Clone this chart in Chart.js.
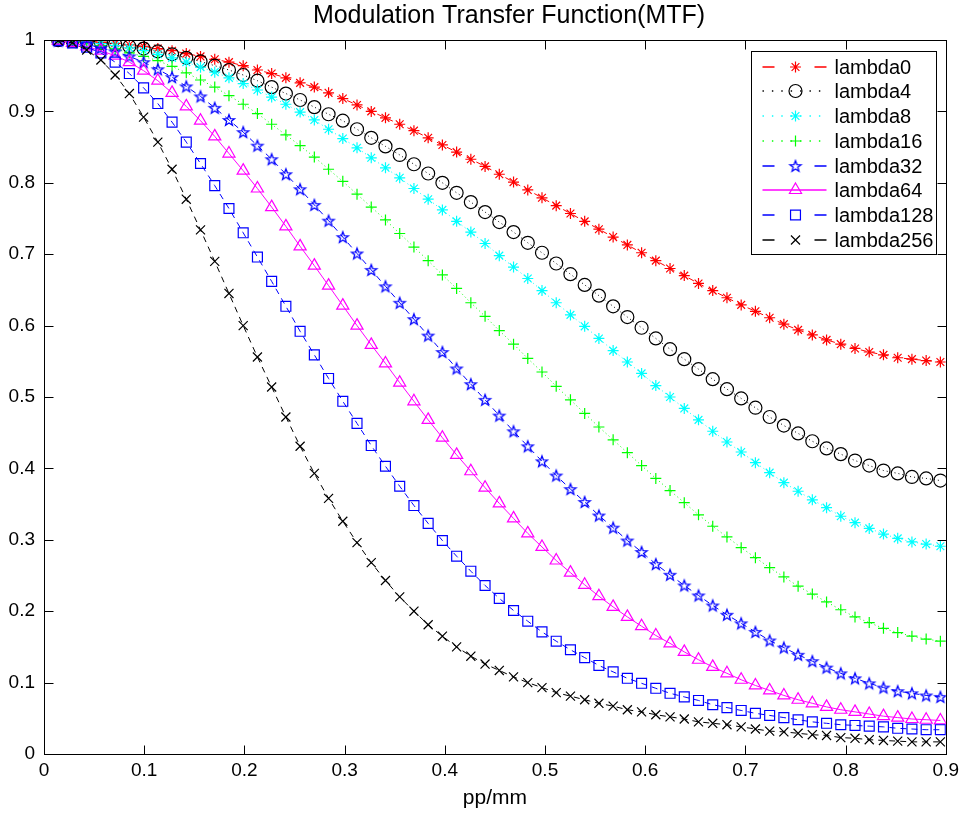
<!DOCTYPE html>
<html>
<head>
<meta charset="utf-8">
<title>MTF</title>
<script src="https://cdn.jsdelivr.net/npm/chart.js@4.4.0/dist/chart.umd.min.js"></script>
<style>
  html, body { margin: 0; padding: 0; background: #fff; }
  #mtf { display: block; }
</style>
</head>
<body>
<canvas id="mtf" width="964" height="814"></canvas>
<script>
// spatial frequency samples (pp/mm)
const freq = [0.0142, 0.0284, 0.0426, 0.0568, 0.071, 0.0852, 0.0994, 0.1136, 0.1278, 0.142,
  0.1562, 0.1704, 0.1846, 0.1988, 0.213, 0.2272, 0.2414, 0.2556, 0.2698, 0.284,
  0.2982, 0.3124, 0.3266, 0.3408, 0.355, 0.3692, 0.3834, 0.3976, 0.4118, 0.426,
  0.4402, 0.4544, 0.4686, 0.4828, 0.497, 0.5112, 0.5254, 0.5396, 0.5538, 0.568,
  0.5822, 0.5964, 0.6106, 0.6248, 0.639, 0.6532, 0.6674, 0.6816, 0.6958, 0.71,
  0.7242, 0.7384, 0.7526, 0.7668, 0.781, 0.7952, 0.8094, 0.8236, 0.8378, 0.852,
  0.8662, 0.8804, 0.8946];

const lambda0 = [0.9998, 0.9993, 0.9983, 0.997, 0.9954, 0.9933, 0.991, 0.988, 0.985, 0.981,
  0.977, 0.973, 0.969, 0.964, 0.958, 0.953, 0.947, 0.940, 0.934, 0.926,
  0.918, 0.909, 0.900, 0.891, 0.882, 0.873, 0.863, 0.853, 0.843, 0.833,
  0.823, 0.812, 0.801, 0.790, 0.779, 0.768, 0.757, 0.746, 0.735, 0.724,
  0.713, 0.702, 0.691, 0.680, 0.670, 0.659, 0.649, 0.639, 0.629, 0.620,
  0.611, 0.602, 0.594, 0.587, 0.580, 0.574, 0.568, 0.563, 0.559, 0.555,
  0.553, 0.551, 0.549];

const lambda4 = [0.9997, 0.999, 0.9977, 0.996, 0.994, 0.991, 0.988, 0.984, 0.980, 0.975,
  0.970, 0.964, 0.958, 0.951, 0.943, 0.934, 0.925, 0.916, 0.906, 0.896,
  0.887, 0.875, 0.863, 0.851, 0.839, 0.826, 0.813, 0.800, 0.786, 0.773,
  0.759, 0.745, 0.731, 0.716, 0.702, 0.687, 0.672, 0.657, 0.642, 0.627,
  0.612, 0.597, 0.582, 0.567, 0.553, 0.539, 0.525, 0.511, 0.498, 0.485,
  0.472, 0.460, 0.449, 0.438, 0.428, 0.420, 0.411, 0.404, 0.397, 0.393,
  0.388, 0.386, 0.383];

const lambda8 = [0.9997, 0.9988, 0.9972, 0.995, 0.992, 0.989, 0.985, 0.980, 0.975, 0.969,
  0.962, 0.955, 0.947, 0.939, 0.930, 0.920, 0.910, 0.899, 0.888, 0.875,
  0.862, 0.849, 0.835, 0.821, 0.807, 0.792, 0.777, 0.762, 0.746, 0.731,
  0.715, 0.698, 0.682, 0.666, 0.649, 0.632, 0.615, 0.599, 0.582, 0.565,
  0.549, 0.533, 0.516, 0.500, 0.484, 0.468, 0.452, 0.437, 0.423, 0.408,
  0.394, 0.380, 0.368, 0.356, 0.345, 0.333, 0.324, 0.316, 0.308, 0.302,
  0.297, 0.294, 0.291];

const lambda16 = [0.9995, 0.998, 0.9955, 0.992, 0.9875, 0.982, 0.977, 0.971, 0.963, 0.954,
  0.944, 0.934, 0.922, 0.910, 0.897, 0.882, 0.867, 0.852, 0.836, 0.819,
  0.802, 0.784, 0.766, 0.748, 0.729, 0.710, 0.691, 0.671, 0.652, 0.632,
  0.613, 0.593, 0.574, 0.554, 0.535, 0.515, 0.496, 0.477, 0.458, 0.440,
  0.422, 0.404, 0.386, 0.369, 0.352, 0.335, 0.319, 0.304, 0.289, 0.275,
  0.261, 0.248, 0.235, 0.224, 0.213, 0.202, 0.192, 0.184, 0.176, 0.170,
  0.165, 0.161, 0.158];

const lambda32 = [0.999, 0.997, 0.994, 0.989, 0.984, 0.977, 0.969, 0.959, 0.948, 0.935,
  0.921, 0.905, 0.888, 0.871, 0.852, 0.833, 0.812, 0.791, 0.769, 0.747,
  0.724, 0.701, 0.678, 0.655, 0.632, 0.609, 0.586, 0.563, 0.540, 0.518,
  0.496, 0.474, 0.452, 0.431, 0.410, 0.390, 0.371, 0.353, 0.334, 0.317,
  0.299, 0.283, 0.266, 0.251, 0.236, 0.222, 0.208, 0.195, 0.183, 0.171,
  0.159, 0.149, 0.139, 0.130, 0.121, 0.113, 0.106, 0.099, 0.093, 0.088,
  0.085, 0.082, 0.080];

const lambda64 = [0.999, 0.996, 0.991, 0.985, 0.978, 0.969, 0.957, 0.943, 0.926, 0.907,
  0.887, 0.865, 0.841, 0.817, 0.792, 0.766, 0.739, 0.711, 0.684, 0.656,
  0.628, 0.600, 0.573, 0.547, 0.520, 0.494, 0.468, 0.443, 0.419, 0.396,
  0.373, 0.351, 0.330, 0.309, 0.290, 0.271, 0.254, 0.237, 0.221, 0.206,
  0.192, 0.179, 0.166, 0.155, 0.143, 0.132, 0.122, 0.113, 0.104, 0.096,
  0.089, 0.082, 0.076, 0.071, 0.066, 0.062, 0.059, 0.056, 0.053, 0.051,
  0.049, 0.048, 0.047];

const lambda128 = [0.999, 0.996, 0.990, 0.982, 0.969, 0.953, 0.933, 0.911, 0.885, 0.857,
  0.827, 0.796, 0.764, 0.730, 0.696, 0.662, 0.627, 0.592, 0.559, 0.526,
  0.494, 0.463, 0.432, 0.403, 0.375, 0.348, 0.323, 0.299, 0.277, 0.256,
  0.236, 0.218, 0.201, 0.186, 0.171, 0.158, 0.146, 0.135, 0.124, 0.115,
  0.106, 0.099, 0.092, 0.085, 0.080, 0.075, 0.069, 0.065, 0.061, 0.057,
  0.054, 0.051, 0.048, 0.045, 0.043, 0.041, 0.040, 0.039, 0.038, 0.036,
  0.035, 0.034, 0.034];

const lambda256 = [0.999, 0.996, 0.986, 0.972, 0.951, 0.925, 0.892, 0.857, 0.819, 0.777,
  0.734, 0.690, 0.645, 0.600, 0.556, 0.514, 0.472, 0.431, 0.393, 0.358,
  0.326, 0.296, 0.268, 0.243, 0.220, 0.200, 0.181, 0.165, 0.150, 0.137,
  0.126, 0.117, 0.108, 0.100, 0.093, 0.086, 0.081, 0.076, 0.071, 0.067,
  0.062, 0.059, 0.055, 0.052, 0.049, 0.045, 0.043, 0.041, 0.038, 0.035,
  0.032, 0.031, 0.029, 0.027, 0.026, 0.023, 0.022, 0.020, 0.019, 0.018,
  0.017, 0.017, 0.017];

const seriesNames = ['lambda0', 'lambda4', 'lambda8', 'lambda16', 'lambda32', 'lambda64', 'lambda128', 'lambda256'];
const seriesValues = [lambda0, lambda4, lambda8, lambda16, lambda32, lambda64, lambda128, lambda256];

const xTickLabels = ['0', '0.1', '0.2', '0.3', '0.4', '0.5', '0.6', '0.7', '0.8', '0.9'];
const yTickLabels = ['0', '0.1', '0.2', '0.3', '0.4', '0.5', '0.6', '0.7', '0.8', '0.9', '1'];

const FONT = "'Liberation Sans', Arial, Helvetica, sans-serif";

// pentagram marker (not built into Chart.js)
function makePentagram(color, r) {
  const c = document.createElement('canvas');
  const s = Math.ceil(r * 2 + 4);
  c.width = s; c.height = s;
  const g = c.getContext('2d');
  const cx = s / 2, cy = s / 2 + 0.5, ri = r * 0.42;
  g.beginPath();
  for (let i = 0; i < 10; i++) {
    const a = -Math.PI / 2 + i * Math.PI / 5;
    const rr = i % 2 === 0 ? r : ri;
    const px = cx + rr * Math.cos(a), py = cy + rr * Math.sin(a);
    if (i === 0) g.moveTo(px, py); else g.lineTo(px, py);
  }
  g.closePath();
  g.strokeStyle = color;
  g.lineWidth = 1.3;
  g.stroke();
  return c;
}

// line colour, dash, marker per series
const styles = [
  { color: '#ff0000', dash: [6, 5], marker: 'star', r: 5.5 },
  { color: '#000000', dash: [1, 3], marker: 'circle', r: 6.5 },
  { color: '#00ffff', dash: [1, 3], marker: 'star', r: 5.5 },
  { color: '#00ff00', dash: [1, 3], marker: 'cross', r: 5.5 },
  { color: '#0000ff', dash: [6, 5], marker: makePentagram('#0000ff', 5.8), r: 6 },
  { color: '#ff00ff', dash: [], marker: 'triangle', r: 7 },
  { color: '#0000ff', dash: [6, 5], marker: 'rect', r: 7 },
  { color: '#000000', dash: [6, 5], marker: 'crossRot', r: 6.4 }
];

const datasets = seriesNames.map((name, i) => ({
  label: name,
  data: freq.map((f, k) => ({ x: f, y: seriesValues[i][k] })),
  borderColor: styles[i].color,
  borderWidth: 1,
  borderDash: styles[i].dash,
  pointStyle: styles[i].marker,
  pointRadius: styles[i].r,
  pointBorderColor: styles[i].color,
  pointBackgroundColor: 'rgba(0,0,0,0)',
  pointBorderWidth: 1.2,
  fill: false,
  tension: 0,
  order: seriesNames.length - i
}));

// box, inward ticks, title and legend in the MATLAB figure style
const axesFrame = {
  id: 'axesFrame',
  afterDraw(chart) {
    const { ctx, chartArea: a, scales } = chart;
    ctx.save();
    ctx.strokeStyle = '#000';
    ctx.lineWidth = 1;
    ctx.setLineDash([]);
    const L = Math.round(a.left) + 0.5, R = Math.round(a.right) + 0.5;
    const T = Math.round(a.top) + 0.5, B = Math.round(a.bottom) + 0.5;
    ctx.strokeRect(L, T, R - L, B - T);
    const tl = 9;
    ctx.beginPath();
    scales.x.ticks.forEach(t => {
      const px = Math.round(scales.x.getPixelForValue(t.value)) + 0.5;
      ctx.moveTo(px, B); ctx.lineTo(px, B - tl);
      ctx.moveTo(px, T); ctx.lineTo(px, T + tl);
    });
    scales.y.ticks.forEach(t => {
      const py = Math.round(scales.y.getPixelForValue(t.value)) + 0.5;
      ctx.moveTo(L, py); ctx.lineTo(L + tl, py);
      ctx.moveTo(R, py); ctx.lineTo(R - tl, py);
    });
    ctx.stroke();

    // title
    ctx.fillStyle = '#000';
    ctx.font = '25px ' + FONT;
    ctx.textAlign = 'center';
    ctx.textBaseline = 'middle';
    ctx.fillText('Modulation Transfer Function(MTF)', 509, 16);

    // legend
    const bw = 185, bh = 203;
    const bx = Math.round(a.right - 10 - bw) + 0.5, by = Math.round(a.top + 11) + 0.5;
    ctx.fillStyle = '#fff';
    ctx.fillRect(bx, by, bw, bh);
    ctx.strokeStyle = '#000';
    ctx.lineWidth = 1;
    ctx.strokeRect(bx, by, bw, bh);
    ctx.font = '20px ' + FONT;
    ctx.textAlign = 'left';
    ctx.textBaseline = 'middle';
    seriesNames.forEach((name, i) => {
      const st = styles[i];
      const y = Math.round(by + 15 + i * 24.76);
      const x0 = bx + 11, x1 = bx + 75, xm = bx + 44;
      ctx.beginPath();
      ctx.strokeStyle = st.color;
      ctx.lineWidth = 1.4;
      if (st.dash.length && st.dash[0] > 2) ctx.setLineDash([12, 40]);
      else if (st.dash.length) ctx.setLineDash([1.4, 8]);
      else ctx.setLineDash([]);
      ctx.moveTo(x0, y);
      ctx.lineTo(x1, y);
      ctx.stroke();
      ctx.setLineDash([]);
      ctx.fillStyle = 'rgba(0,0,0,0)';
      ctx.strokeStyle = st.color;
      ctx.lineWidth = 1.2;
      if (Chart.helpers && Chart.helpers.drawPoint) {
        Chart.helpers.drawPoint(ctx, { pointStyle: st.marker, radius: st.r, rotation: 0, borderWidth: 1.2 }, xm, y);
      }
      ctx.fillStyle = '#000';
      ctx.fillText(name, bx + 83, y + 1);
    });
    ctx.restore();
  }
};

new Chart(document.getElementById('mtf'), {
  type: 'line',
  data: { datasets },
  plugins: [axesFrame],
  options: {
    responsive: false,
    animation: false,
    devicePixelRatio: 1,
    layout: { padding: { top: 40, right: 17, left: 0, bottom: 0 } },
    plugins: {
      legend: { display: false },
      title: { display: false },
      tooltip: { enabled: false }
    },
    scales: {
      x: {
        type: 'linear',
        min: 0,
        max: 0.9,
        afterFit(scale) { scale.height = 60; },
        afterBuildTicks(scale) {
          scale.ticks = xTickLabels.map((s, i) => ({ value: i / 10 }));
        },
        ticks: {
          padding: 5,
          color: '#000',
          font: { family: FONT, size: 19 },
          maxRotation: 0,
          autoSkip: false,
          callback: (v, i) => xTickLabels[i]
        },
        grid: { display: false, drawTicks: false },
        border: { display: false },
        title: {
          display: true,
          text: 'pp/mm',
          color: '#000',
          font: { family: FONT, size: 21 },
          padding: { top: 0, bottom: 3 }
        }
      },
      y: {
        type: 'linear',
        min: 0,
        max: 1,
        afterFit(scale) { scale.width = 44; },
        afterBuildTicks(scale) {
          scale.ticks = yTickLabels.map((s, i) => ({ value: i / 10 }));
        },
        ticks: {
          padding: 9,
          color: '#000',
          font: { family: FONT, size: 19 },
          autoSkip: false,
          callback: (v, i) => yTickLabels[i]
        },
        grid: { display: false, drawTicks: false },
        border: { display: false }
      }
    }
  }
});
</script>
</body>
</html>
